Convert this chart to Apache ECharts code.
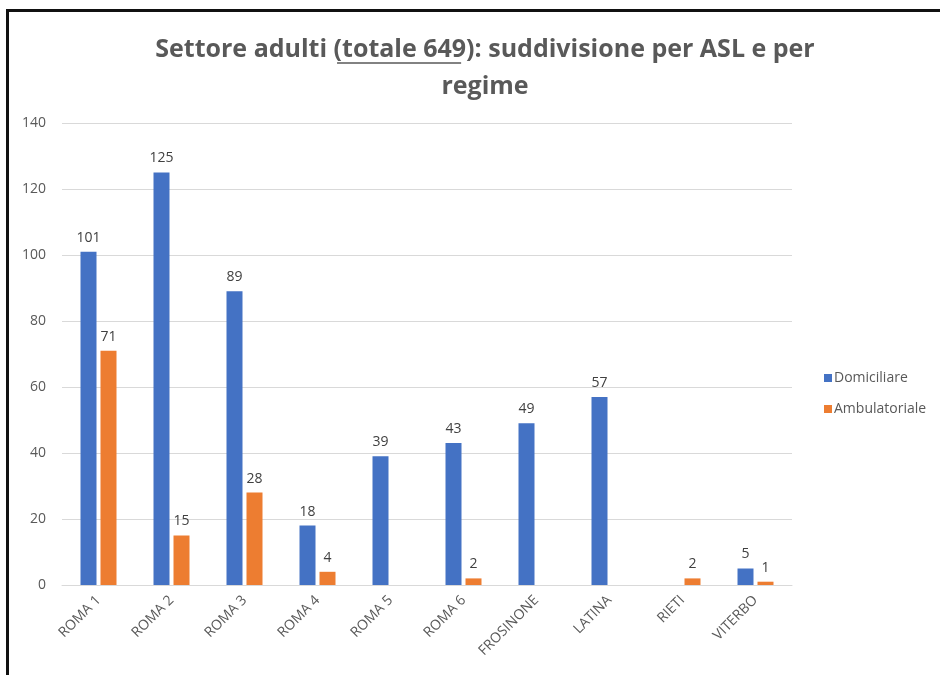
<!DOCTYPE html>
<html>
<head>
<meta charset="utf-8">
<script src="https://cdn.jsdelivr.net/npm/echarts@6/dist/echarts.min.js"></script>
<style>
  html, body { margin: 0; padding: 0; background: #fff; }
  #wrap { position: relative; width: 940px; height: 675px; overflow: hidden; }
  #frame { position: absolute; left: 6px; top: 9px; right: -10px; bottom: -10px;
           border-left: 3px solid #111; border-top: 3px solid #111; }
  #chart { position: absolute; left: 0; top: 0; width: 940px; height: 675px; }
</style>
</head>
<body>
<div id="wrap">
  <div id="chart"></div>
  <div id="frame"></div>
</div>
<script>
// ASL districts and counts per regime
const categories = ['ROMA 1', 'ROMA 2', 'ROMA 3', 'ROMA 4', 'ROMA 5', 'ROMA 6', 'FROSINONE', 'LATINA', 'RIETI', 'VITERBO'];
const domiciliare = [101, 125, 89, 18, 39, 43, 49, 57, null, 5];
const ambulatoriale = [71, 15, 28, 4, null, 2, null, null, 2, 1];
const yTicks = [0, 20, 40, 60, 80, 100, 120, 140];

const textGrey = '#595959';
const fontFam = '"Open Sans", "Liberation Sans", sans-serif';
const titleSize = 25;

const chart = echarts.init(document.getElementById('chart'), null, { renderer: 'canvas' });

const labelStyle = {
  show: true,
  position: 'top',
  distance: 7,
  color: '#404040',
  fontSize: 14,
  fontFamily: fontFam
};

chart.setOption({
  backgroundColor: '#ffffff',
  animation: false,
  title: {
    text: '{a|Settore adulti (}{a|totale 649}{a|): suddivisione per ASL e per}\n{a|regime}',
    left: 480,
    textAlign: 'center',
    top: 26,
    textStyle: {
      rich: {
        a: { fontSize: titleSize, fontWeight: 'bold', color: textGrey, fontFamily: fontFam, lineHeight: 37 }
      }
    }
  },
  legend: {
    orient: 'vertical',
    left: 819,
    top: 366,
    itemWidth: 8,
    itemHeight: 8,
    itemGap: 17,
    icon: 'rect',
    textStyle: { color: textGrey, fontSize: 14, fontFamily: fontFam, padding: [0, 0, 0, -3] },
    data: ['Domiciliare', 'Ambulatoriale']
  },
  grid: { left: 62, right: 148, top: 123, bottom: 90 },
  xAxis: {
    type: 'category',
    data: categories,
    axisLine: { lineStyle: { color: '#d9d9d9', width: 1 } },
    axisTick: { show: false },
    axisLabel: { rotate: 45, color: textGrey, fontSize: 14, fontFamily: fontFam, margin: 13, interval: 0 }
  },
  yAxis: {
    type: 'value',
    min: yTicks[0],
    max: yTicks[yTicks.length - 1],
    interval: 20,
    axisLine: { show: false },
    axisTick: { show: false },
    splitLine: { lineStyle: { color: '#d9d9d9', width: 1 } },
    axisLabel: { color: textGrey, fontSize: 14, fontFamily: fontFam, margin: 16 }
  },
  series: [
    {
      name: 'Domiciliare',
      type: 'bar',
      data: domiciliare,
      barWidth: 16,
      barGap: '25%',
      itemStyle: { color: '#4472c4' },
      label: labelStyle
    },
    {
      name: 'Ambulatoriale',
      type: 'bar',
      data: ambulatoriale,
      barWidth: 16,
      itemStyle: { color: '#ed7d31' },
      label: labelStyle
    }
  ],
  graphic: [
    // underline beneath "totale 649"
    { type: 'line', id: 'uline', shape: { x1: 0, y1: 0, x2: 0, y2: 0 }, style: { stroke: textGrey, lineWidth: 1.5 } }
  ]
});

// place the underline under the highlighted part of the title
(function placeUnderline() {
  const ctx = document.createElement('canvas').getContext('2d');
  ctx.font = 'bold ' + titleSize + 'px ' + fontFam;
  const full = 'Settore adulti (totale 649): suddivisione per ASL e per';
  const pre = 'Settore adulti (';
  const mid = 'totale 649';
  const wFull = ctx.measureText(full).width;
  const x0 = 480 - wFull / 2 + ctx.measureText(pre).width;
  const x1 = x0 + ctx.measureText(mid).width;
  chart.setOption({ graphic: [{ id: 'uline', shape: { x1: x0, y1: 63, x2: x1, y2: 63 } }] });
})();
</script>
</body>
</html>
